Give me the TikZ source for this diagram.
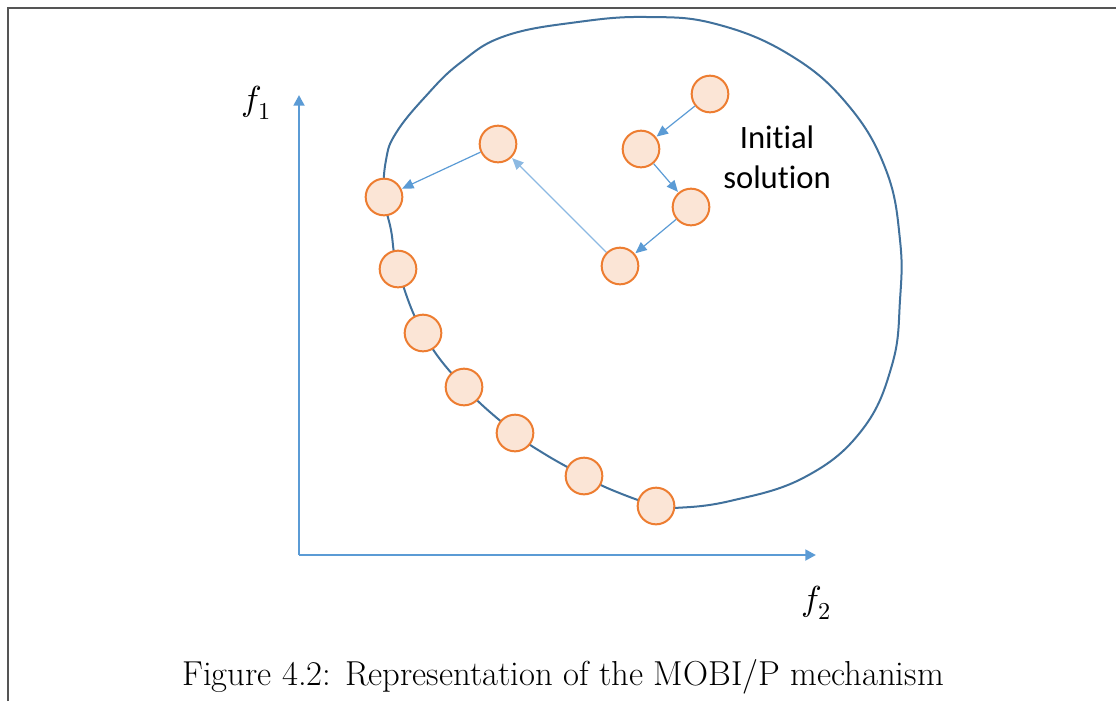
\documentclass[tikz,border=0pt]{standalone}
\usepackage{fontspec}
\usepackage{unicode-math}
\setmathfont{Latin Modern Math}
\newfontfamily\calibri[Ligatures={NoCommon,NoRare,NoContextual}]{Carlito}
\usetikzlibrary{arrows.meta}
\definecolor{ptfill}{HTML}{FBE5D6}
\definecolor{ptdraw}{HTML}{ED7D31}
\definecolor{axblue}{HTML}{5B9BD5}
\definecolor{blobc}{HTML}{41719C}
\definecolor{framec}{HTML}{555555}
\tikzset{
  pt/.style={circle, draw=ptdraw, fill=ptfill, line width=1.5pt, minimum size=27.5pt, inner sep=0pt},
  mv/.style={draw=axblue, line width=0.9pt, -{Triangle[length=8.5pt,width=7.5pt]}, shorten >=0.5pt},
  axis/.style={draw=axblue, line width=2.2pt, -{Triangle[length=8pt,width=8pt]}},
  blob/.style={draw=blobc, line width=1.5pt},
  axlabel/.style={font=\fontsize{26}{30}\selectfont},
}
\begin{document}
\begin{tikzpicture}[x=0.75pt,y=-0.75pt]
\useasboundingbox (0,0) rectangle (1116,701);
% frame
\draw[framec, line width=1.2pt] (8,701) -- (8,8) -- (1116,8);
% blob
\draw[blob] plot[smooth cycle, tension=0.7] coordinates {
 (384,197) (386,160) (396,133) (425,97) (460,63) (505,36)
 (578,22) (647,17) (716,24) (790,55) (848,105)
 (886,170) (900,240) (900,300) (892,365) (862,430)
 (805,477) (730,501) (674,508) (656,506)
 (612,490) (584,476) (543,453) (515,433) (464,387) (423,333) (398,269) (391,230)};
% axes
\coordinate (o) at (299,555);
\coordinate (ytip) at (299,95);
\coordinate (xtip) at (816,555);
\draw[axis] (o) -- (ytip);
\draw[axis] (o) -- (xtip);
\node[axlabel] (f1) at (256,103) {$f_1$};
\node[axlabel] (f2) at (816,603) {$f_2$};
% points
\node[pt] (c1) at (710,94) {};
\node[pt] (c2) at (641,149) {};
\node[pt] (c3) at (691,207) {};
\node[pt] (c4) at (620,266) {};
\node[pt] (c5) at (498,144) {};
\node[pt] (c6) at (384,197) {};
\node[pt] (c7) at (398,269) {};
\node[pt] (c8) at (423,333) {};
\node[pt] (c9) at (464,387) {};
\node[pt] (c10) at (515,433) {};
\node[pt] (c11) at (584,476) {};
\node[pt] (c12) at (656,506) {};
% moves
\draw[mv] (c1) -- (c2);
\draw[mv] (c2) -- (c3);
\draw[mv] (c3) -- (c4);
\draw[mv, draw=axblue!70] (c4) -- (c5);
\draw[mv] (c5) -- (c6);
% label
\node[align=center, font=\calibri\fontsize{24.5}{30}\selectfont] (init) at (777,157) {Initial\\solution};
% caption
\node (cap) at (563,677) {\fontsize{26}{30}\selectfont Figure 4.2: Representation of the MOBI/P mechanism};
\end{tikzpicture}
\end{document}
